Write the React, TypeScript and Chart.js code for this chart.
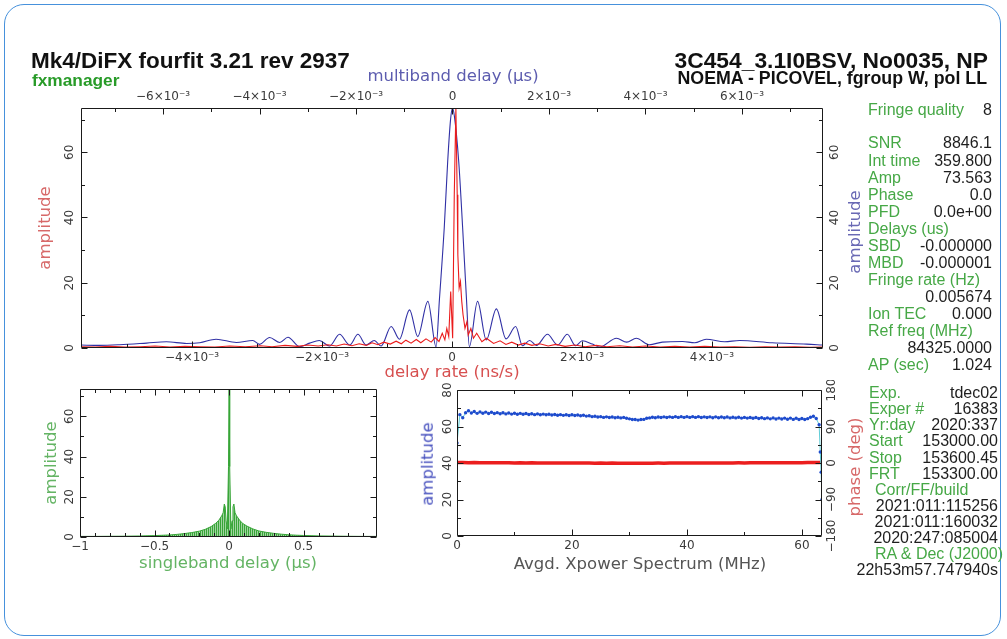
import React, { useEffect, useRef } from 'react';
import { Chart, registerables } from 'chart.js';

Chart.register(...registerables);

const PLOT_FONT = '"DejaVu Sans", "Noto Sans", sans-serif';
const TEXT_FONT = '"Liberation Sans", Arial, Helvetica, sans-serif';

// ---------------- main panel ----------------
const AMP_MAX = 73.563;
// multiband delay (top axis, units of 1e-3 µs)
const MBD_X = [-7.71, -7.32, -6.9, -6.34, -5.93, -5.51, -5.24, -4.9, -4.48, -4.14, -4.0, -3.79, -3.58, -3.41, -3.17, -2.96, -2.76, -2.55, -2.34, -2.13, -1.96, -1.79, -1.62, -1.48, -1.27, -1.1, -0.89, -0.72, -0.51, -0.34, -0.27, -0.17, -0.1, -0.04, 0, 0.04, 0.13, 0.21, 0.29, 0.35, 0.52, 0.7, 0.91, 1.11, 1.31, 1.45, 1.6, 1.74, 1.97, 2.18, 2.38, 2.55, 2.69, 2.9, 3.05, 3.4, 3.61, 3.81, 4.08, 4.35, 4.77, 5.02, 5.26, 5.64, 5.95, 6.63, 7.34, 7.67];
const MBD_AMP = [0.9, 0.8, 1.0, 1.5, 1.9, 1.4, 1.6, 2.7, 1.7, 2.3, 1.1, 3.2, 1.7, 3.3, 0.4, 1.5, 2.3, 0.6, 4.2, 0.9, 4.2, 0.9, 2.3, 0.6, 6.6, 2.7, 11.7, 3.5, 14.3, 0.3, 15, 37, 57, 70, 73.5, 71, 57, 37, 15, 0.4, 14.3, 2.5, 12, 2.8, 6.6, 0.7, 2.3, 0.8, 4.2, 0.9, 4.2, 0.7, 2.2, 1.2, 0.3, 3.0, 1.8, 3.0, 1.0, 1.8, 2.0, 1.6, 2.7, 1.9, 2.3, 1.6, 1.2, 0.9];
// delay rate (bottom axis, units of 1e-3 ns/s)
const DR_X = [-5.71, -5.49, -5.26, -5.03, -4.8, -4.57, -4.34, -4.11, -3.88, -3.65, -3.42, -3.18, -2.95, -2.77, -2.57, -2.38, -2.22, -2.06, -1.91, -1.78, -1.66, -1.54, -1.43, -1.32, -1.23, -1.14, -1.05, -0.95, -0.86, -0.78, -0.71, -0.63, -0.55, -0.48, -0.4, -0.32, -0.26, -0.2, -0.15, -0.11, -0.08, -0.05, -0.02, 0.01, 0.035, 0.06, 0.08, 0.09, 0.11, 0.13, 0.15, 0.17, 0.2, 0.23, 0.25, 0.29, 0.33, 0.38, 0.46, 0.53, 0.64, 0.74, 0.83, 0.92, 1.02, 1.12, 1.23, 1.35, 1.48, 1.6, 1.74, 1.89, 2.05, 2.22, 2.38, 2.58, 2.78, 2.98, 3.2, 3.43, 3.66, 3.89, 4.12, 4.35, 4.58, 4.82, 5.05, 5.28, 5.51, 5.71];
const DR_AMP = [0.4, 0.3, 0.5, 0.3, 0.4, 0.6, 0.3, 0.5, 0.4, 0.3, 0.6, 0.4, 0.7, 0.4, 0.8, 0.5, 0.9, 0.6, 1.0, 0.6, 1.2, 0.7, 1.3, 0.8, 1.6, 1.0, 1.8, 1.2, 2.1, 1.3, 2.4, 1.5, 2.6, 1.6, 2.8, 1.8, 3.2, 2.0, 4.5, 2.5, 6.0, 3.5, 17.3, 3.0, 47, 73.5, 47, 28.6, 18.4, 20.4, 14.3, 10.2, 6.0, 8.1, 4.0, 6.0, 3.0, 4.5, 1.9, 3.0, 1.4, 2.2, 1.1, 1.8, 0.9, 1.5, 0.8, 1.3, 0.6, 1.1, 0.5, 0.9, 0.4, 0.8, 0.4, 0.7, 0.3, 0.6, 0.3, 0.5, 0.3, 0.5, 0.3, 0.4, 0.2, 0.4, 0.3, 0.4, 0.2, 0.3];
const DR_TICKS = [-5, -4, -3, -2, -1, 0, 1, 2, 3, 4, 5];
const DR_LABELED = [-4, -2, 0, 2, 4];
const MBD_TICKS = [-7, -6, -5, -4, -3, -2, -1, 0, 1, 2, 3, 4, 5, 6, 7];
const MBD_LABELED = [-6, -4, -2, 0, 2, 4, 6];
const AMP_TICKS = [0, 10, 20, 30, 40, 50, 60, 70];
const AMP_LABELED = [0, 20, 40, 60];

// ---------------- singleband delay panel ----------------
const SBD_X = [-1, -0.9, -0.8, -0.7, -0.6, -0.5, -0.45, -0.4, -0.35, -0.3, -0.25, -0.2, -0.16, -0.12, -0.09, -0.07, -0.05, -0.04, -0.032, -0.026, -0.02, -0.012, -0.004, 0, 0.004, 0.012, 0.02, 0.026, 0.032, 0.04, 0.05, 0.07, 0.09, 0.12, 0.16, 0.2, 0.25, 0.3, 0.35, 0.4, 0.45, 0.5, 0.6, 0.7, 0.8, 0.9, 0.99];
const SBD_AMP = [0.3, 0.3, 0.35, 0.4, 0.5, 0.7, 0.85, 1.0, 1.3, 1.7, 2.2, 2.9, 3.8, 5.2, 6.8, 8.2, 10.5, 12, 16.4, 15, 8, 4, 35, 73.5, 35, 4, 8, 15, 16.4, 12, 10.5, 8.4, 6.8, 5.4, 4.0, 3.0, 2.3, 1.8, 1.4, 1.1, 0.9, 0.75, 0.55, 0.45, 0.35, 0.3, 0.3];
const SBD_TICKS = [-1, -0.9, -0.8, -0.7, -0.6, -0.5, -0.4, -0.3, -0.2, -0.1, 0, 0.1, 0.2, 0.3, 0.4, 0.5, 0.6, 0.7, 0.8, 0.9];
const SBD_LABELED = [-1, -0.5, 0, 0.5];

// ---------------- cross-power spectrum panel ----------------
const XP_FREQ = [
  0, 0.5, 1, 1.5, 2, 2.5, 3, 3.5, 4, 4.5,
  5, 5.5, 6, 6.5, 7, 7.5, 8, 8.5, 9, 9.5,
  10, 10.5, 11, 11.5, 12, 12.5, 13, 13.5, 14, 14.5,
  15, 15.5, 16, 16.5, 17, 17.5, 18, 18.5, 19, 19.5,
  20, 20.5, 21, 21.5, 22, 22.5, 23, 23.5, 24, 24.5,
  25, 25.5, 26, 26.5, 27, 27.5, 28, 28.5, 29, 29.5,
  30, 30.5, 31, 31.5, 32, 32.5, 33, 33.5, 34, 34.5,
  35, 35.5, 36, 36.5, 37, 37.5, 38, 38.5, 39, 39.5,
  40, 40.5, 41, 41.5, 42, 42.5, 43, 43.5, 44, 44.5,
  45, 45.5, 46, 46.5, 47, 47.5, 48, 48.5, 49, 49.5,
  50, 50.5, 51, 51.5, 52, 52.5, 53, 53.5, 54, 54.5,
  55, 55.5, 56, 56.5, 57, 57.5, 58, 58.5, 59, 59.5,
  60, 60.5, 61, 61.5, 62, 62.5, 63, 63.2, 63.35, 63.5,
];
const XP_AMP = [
  51, 66.5, 64.8, 67.5, 68.6, 67.4, 68.2, 67.2, 68.0, 67.3,
  67.9, 67.1, 67.8, 67.1, 67.6, 67.0, 67.5, 66.9, 67.4, 66.8,
  67.3, 66.7, 67.2, 66.7, 67.1, 66.6, 67.0, 66.5, 66.9, 66.4,
  66.8, 66.4, 66.7, 66.3, 66.6, 66.2, 66.5, 66.1, 66.4, 66.0,
  66.4, 66.0, 66.3, 65.9, 66.2, 65.7, 65.9, 65.4, 65.6, 65.2,
  65.4, 65.0, 65.3, 64.9, 65.2, 64.8, 65.1, 64.7, 65.0, 64.5,
  64.2, 63.8, 63.8, 63.5, 63.8, 63.9, 64.5, 64.7, 65.1, 64.8,
  65.2, 64.9, 65.3, 64.9, 65.3, 65.0, 65.4, 65.0, 65.4, 65.0,
  65.4, 65.0, 65.4, 65.0, 65.4, 64.9, 65.3, 64.9, 65.3, 64.8,
  65.3, 64.8, 65.2, 64.8, 65.2, 64.7, 65.1, 64.7, 65.1, 64.6,
  65.0, 64.6, 64.9, 64.5, 64.9, 64.4, 64.8, 64.3, 64.7, 64.2,
  64.7, 64.1, 64.6, 64.1, 64.6, 64.0, 64.6, 63.9, 64.5, 63.8,
  64.4, 63.8, 64.3, 65.1, 65.6, 64.4, 61, 46, 35, 20,
];
const XP_PH_FREQ = [
  0, 1, 2, 3, 4, 5, 6, 7, 8, 9,
  10, 11, 12, 13, 14, 15, 16, 17, 18, 19,
  20, 21, 22, 23, 24, 25, 26, 27, 28, 29,
  30, 31, 32, 33, 34, 35, 36, 37, 38, 39,
  40, 41, 42, 43, 44, 45, 46, 47, 48, 49,
  50, 51, 52, 53, 54, 55, 56, 57, 58, 59,
  60, 61, 62, 63, 63.5,
];
const XP_PHASE = [
  1.5, 1.2, 0.8, 1.0, 0.6, 0.9, 0.5, 0.7, 0.4, 0.6,
  0.3, 0.5, 0.2, 0.4, 0.1, 0.3, 0.0, 0.2, -0.1, 0.1,
  -0.2, 0.0, -0.3, -0.1, -0.4, -0.2, -0.5, -0.3, -0.6, -0.4,
  -0.7, -0.5, -0.6, -0.4, -0.5, -0.3, -0.4, -0.2, -0.3, -0.1,
  -0.2, 0.0, -0.1, 0.1, 0.0, 0.2, 0.1, 0.3, 0.2, 0.4,
  0.3, 0.5, 0.4, 0.6, 0.5, 0.7, 0.6, 0.8, 0.7, 0.9,
  0.8, 1.0, 1.2, 1.5, 1.6,
];
const XP_X_TICKS = [0, 10, 20, 30, 40, 50, 60];
const XP_X_LABELED = [0, 20, 40, 60];
const XP_AMP_TICKS = [0, 10, 20, 30, 40, 50, 60, 70, 80];
const XP_AMP_LABELED = [0, 20, 40, 60, 80];
const XP_PH_TICKS = [-180, -135, -90, -45, 0, 45, 90, 135, 180];
const XP_PH_LABELED = [-180, -90, 0, 90, 180];

// ---------------- text panel ----------------
const TITLE_LEFT = 'Mk4/DiFX fourfit 3.21 rev 2937';
const SUBTITLE_LEFT = 'fxmanager';
const TITLE_RIGHT = '3C454_3.1I0BSV, No0035, NP';
const SUBTITLE_RIGHT = 'NOEMA - PICOVEL, fgroup W, pol LL';
const INFO_TOP: [string, string][] = [
  ['SNR', '8846.1'],
  ['Int time', '359.800'],
  ['Amp', '73.563'],
  ['Phase', '0.0'],
  ['PFD', '0.0e+00'],
  ['Delays (us)', ''],
  ['SBD', '-0.000000'],
  ['MBD', '-0.000001'],
  ['Fringe rate (Hz)', ''],
  ['', '0.005674'],
  ['Ion TEC', '0.000'],
  ['Ref freq (MHz)', ''],
  ['', '84325.0000'],
  ['AP (sec)', '1.024'],
];
const INFO_BOTTOM: [string, string][] = [
  ['Exp.', 'tdec02'],
  ['Exper #', '16383'],
  ['Yr:day', '2020:337'],
  ['Start', '153000.00'],
  ['Stop', '153600.45'],
  ['FRT', '153300.00'],
  ['Corr/FF/build', ''],
  ['', '2021:011:115256'],
  ['', '2021:011:160032'],
  ['', '2020:247:085004'],
  ['RA & Dec (J2000)', ''],
  ['', '22h53m57.747940s'],
];

// ---------------- helpers ----------------
const minus = (s: string) => s.replace('-', '−');
const fmtMilli = (v: number) => (Math.abs(v) < 1e-9 ? '0' : minus(String(v)) + '×10⁻³');
const fmtPlain = (v: number) => minus(String(v));

type Side = 'left' | 'right' | 'top' | 'bottom';
const OPP: Record<Side, Side> = { left: 'right', right: 'left', top: 'bottom', bottom: 'top' };

function axis(o: {
  position: Side; min: number; max: number; ticks: number[]; labeled: number[];
  fmt: (v: number) => string; size: number; showLabels: boolean; padding?: number;
}) {
  return {
    type: 'linear',
    axis: o.position === 'left' || o.position === 'right' ? 'y' : 'x',
    position: o.position,
    min: o.min,
    max: o.max,
    grid: { display: false, drawTicks: false },
    border: { display: false },
    afterBuildTicks: (scale: any) => {
      scale.ticks = o.ticks.map((v) => ({ value: v }));
    },
    afterFit: (scale: any) => {
      if (o.position === 'left' || o.position === 'right') scale.width = o.size;
      else scale.height = o.size;
    },
    ticks: {
      display: o.showLabels,
      autoSkip: false,
      maxRotation: 0,
      minRotation: 0,
      padding: o.padding ?? 4,
      color: '#3a3a3a',
      font: { family: PLOT_FONT, size: 12 },
      callback: (v: number) => (o.labeled.some((l) => Math.abs(l - v) < 1e-9) ? o.fmt(v) : ''),
    },
  };
}

interface Deco { side: Side; mirror?: boolean; rot?: boolean; gap?: number }

function framePlugin(deco: Record<string, Deco>) {
  return {
    id: 'pgFrame',
    afterDraw(chart: any) {
      const ctx = chart.ctx as CanvasRenderingContext2D;
      const a = chart.chartArea;
      const L = Math.round(a.left) + 0.5;
      const R = Math.round(a.right) - 0.5;
      const T = Math.round(a.top) + 0.5;
      const B = Math.round(a.bottom) - 0.5;
      ctx.save();
      ctx.strokeStyle = '#1a1a1a';
      ctx.lineWidth = 1;
      ctx.beginPath();
      ctx.rect(L, T, R - L, B - T);
      for (const id of Object.keys(deco)) {
        const d = deco[id];
        const s = chart.scales[id];
        if (!s) continue;
        const sides: Side[] = [d.side];
        if (d.mirror) sides.push(OPP[d.side]);
        for (const t of s.ticks) {
          const p = Math.round(s.getPixelForValue(t.value)) + 0.5;
          const len = t.label ? 6 : 3.5;
          for (const sd of sides) {
            if (sd === 'left') { ctx.moveTo(L, p); ctx.lineTo(L + len, p); }
            else if (sd === 'right') { ctx.moveTo(R, p); ctx.lineTo(R - len, p); }
            else if (sd === 'top') { ctx.moveTo(p, T); ctx.lineTo(p, T + len); }
            else { ctx.moveTo(p, B); ctx.lineTo(p, B - len); }
          }
        }
      }
      ctx.stroke();
      ctx.fillStyle = '#3a3a3a';
      ctx.font = `12px ${PLOT_FONT}`;
      ctx.textAlign = 'center';
      ctx.textBaseline = 'middle';
      for (const id of Object.keys(deco)) {
        const d = deco[id];
        const s = chart.scales[id];
        if (!s || !d.rot) continue;
        const gap = d.gap ?? 10;
        for (const t of s.ticks) {
          if (!t.label) continue;
          const x = d.side === 'left' ? a.left - gap : a.right + gap;
          const y = s.getPixelForValue(t.value);
          ctx.save();
          ctx.translate(x, y);
          ctx.rotate(-Math.PI / 2);
          ctx.fillText(String(t.label), 0, 0);
          ctx.restore();
        }
      }
      ctx.restore();
    },
  };
}

const pts = (xs: number[], ys: number[]) => xs.map((x, i) => ({ x, y: ys[i] }));

const baseOptions = {
  responsive: false,
  animation: false,
  events: [],
  plugins: { legend: { display: false }, tooltip: { enabled: false }, title: { display: false } },
};

// ---------------- text components ----------------
function Txt(p: { x: number; base: number; size: number; color: string; bold?: boolean; align?: 'left' | 'right' | 'center'; family?: string; children: React.ReactNode }) {
  const style: any = {
    position: 'absolute',
    top: p.base - 0.8465 * p.size,
    fontSize: p.size,
    lineHeight: `${p.size}px`,
    fontFamily: p.family ?? TEXT_FONT,
    color: p.color,
    fontWeight: p.bold ? 700 : 400,
    whiteSpace: 'pre',
  };
  if (p.align === 'right') style.right = 1007 - p.x;
  else if (p.align === 'center') { style.left = p.x; style.transform = 'translateX(-50%)'; }
  else style.left = p.x;
  return <div style={style}>{p.children}</div>;
}

function VTxt(p: { cx: number; cy: number; size: number; color: string; children: React.ReactNode }) {
  return (
    <div
      style={{
        position: 'absolute', left: p.cx, top: p.cy, fontSize: p.size, lineHeight: `${p.size}px`,
        fontFamily: PLOT_FONT, color: p.color, whiteSpace: 'pre',
        transform: 'translate(-50%, -50%) rotate(-90deg)',
      }}
    >
      {p.children}
    </div>
  );
}

export default function App() {
  const mainRef = useRef<HTMLCanvasElement>(null);
  const sbdRef = useRef<HTMLCanvasElement>(null);
  const xpRef = useRef<HTMLCanvasElement>(null);

  useEffect(() => {
    Chart.defaults.font.family = PLOT_FONT;
    const charts: Chart[] = [];

    // main fringe plot
    charts.push(
      new Chart(mainRef.current!, {
        type: 'line',
        data: {
          datasets: [
            {
              data: pts(DR_X, DR_AMP), xAxisID: 'xb', yAxisID: 'y', borderColor: 'rgb(235,28,28)',
              borderWidth: 1.1, pointRadius: 0, tension: 0, order: 1,
            },
            {
              data: pts(MBD_X, MBD_AMP), xAxisID: 'xt', yAxisID: 'y', borderColor: 'rgb(48,48,165)',
              borderWidth: 1.1, pointRadius: 0, cubicInterpolationMode: 'monotone', order: 2,
            },
          ],
        },
        options: {
          ...baseOptions,
          layout: { padding: 0 },
          scales: {
            xb: axis({ position: 'bottom', min: -5.71, max: 5.71, ticks: DR_TICKS, labeled: DR_LABELED, fmt: fmtMilli, size: 42, showLabels: true, padding: 3 }),
            xt: axis({ position: 'top', min: -7.7, max: 7.68, ticks: MBD_TICKS, labeled: MBD_LABELED, fmt: fmtMilli, size: 48, showLabels: true, padding: 4 }),
            y: axis({ position: 'left', min: 0, max: AMP_MAX, ticks: AMP_TICKS, labeled: AMP_LABELED, fmt: fmtPlain, size: 81, showLabels: false }),
            y2: axis({ position: 'right', min: 0, max: AMP_MAX, ticks: AMP_TICKS, labeled: AMP_LABELED, fmt: fmtPlain, size: 77, showLabels: false }),
          },
        } as any,
        plugins: [framePlugin({
          xb: { side: 'bottom' }, xt: { side: 'top' },
          y: { side: 'left', rot: true, gap: 11 }, y2: { side: 'right', rot: true, gap: 12 },
        })],
      } as any)
    );

    // singleband delay plot with hatched fill
    const pc = document.createElement('canvas');
    pc.width = 2; pc.height = 1;
    const pctx = pc.getContext('2d')!;
    pctx.fillStyle = 'rgba(45,160,45,0.95)';
    pctx.fillRect(0, 0, 1, 1);
    pctx.fillStyle = 'rgba(45,160,45,0.45)';
    pctx.fillRect(1, 0, 1, 1);
    const hatch = sbdRef.current!.getContext('2d')!.createPattern(pc, 'repeat');

    charts.push(
      new Chart(sbdRef.current!, {
        type: 'line',
        data: {
          datasets: [
            {
              data: pts(SBD_X, SBD_AMP), borderColor: 'rgb(55,165,55)', borderWidth: 1,
              backgroundColor: hatch, fill: 'origin', pointRadius: 0, tension: 0,
            },
          ],
        },
        options: {
          ...baseOptions,
          layout: { padding: { top: 9, right: 13, left: 0, bottom: 0 } },
          scales: {
            x: axis({ position: 'bottom', min: -1, max: 0.992, ticks: SBD_TICKS, labeled: SBD_LABELED, fmt: fmtPlain, size: 23, showLabels: true, padding: 3 }),
            y: axis({ position: 'left', min: 0, max: AMP_MAX, ticks: AMP_TICKS, labeled: AMP_LABELED, fmt: fmtPlain, size: 50, showLabels: false }),
          },
        } as any,
        plugins: [framePlugin({ x: { side: 'bottom', mirror: true }, y: { side: 'left', mirror: true, rot: true, gap: 10 } })],
      } as any)
    );

    // cross-power spectrum plot
    charts.push(
      new Chart(xpRef.current!, {
        type: 'line',
        data: {
          datasets: [
            {
              data: pts(XP_PH_FREQ, XP_PHASE), yAxisID: 'y2', borderColor: 'rgb(235,30,30)',
              borderWidth: 3.5, pointRadius: 0, tension: 0, order: 2,
            },
            {
              data: pts(XP_FREQ, XP_AMP), yAxisID: 'y', borderColor: 'rgb(95,205,215)', borderWidth: 1,
              pointRadius: 1.7, pointBorderWidth: 0, pointBackgroundColor: 'rgb(30,75,205)', tension: 0, order: 1,
            },
          ],
        },
        options: {
          ...baseOptions,
          layout: { padding: { top: 10, right: 0, left: 0, bottom: 0 } },
          scales: {
            x: axis({ position: 'bottom', min: 0, max: 63.5, ticks: XP_X_TICKS, labeled: XP_X_LABELED, fmt: fmtPlain, size: 24, showLabels: true, padding: 3 }),
            y: axis({ position: 'left', min: 0, max: 80, ticks: XP_AMP_TICKS, labeled: XP_AMP_LABELED, fmt: fmtPlain, size: 47, showLabels: false }),
            y2: axis({ position: 'right', min: -180, max: 180, ticks: XP_PH_TICKS, labeled: XP_PH_LABELED, fmt: fmtPlain, size: 28, showLabels: false }),
          },
        } as any,
        plugins: [framePlugin({
          x: { side: 'bottom', mirror: true },
          y: { side: 'left', rot: true, gap: 9 },
          y2: { side: 'right', rot: true, gap: 10 },
        })],
      } as any)
    );

    return () => charts.forEach((c) => c.destroy());
  }, []);

  const labelGreen = 'rgb(70,168,70)';
  const valueBlack = '#1e1e1e';

  return (
    <div style={{ position: 'absolute', left: 0, top: 0, width: 1007, height: 639, background: '#fff', overflow: 'hidden' }}>
      <div
        style={{
          position: 'absolute', left: 4, top: 4, width: 997, height: 632, boxSizing: 'border-box',
          border: '1.5px solid rgb(70,145,220)', borderRadius: 20,
        }}
      />
      <canvas ref={mainRef} width={900} height={330} style={{ position: 'absolute', left: 0, top: 60 }} />
      <canvas ref={sbdRef} width={360} height={180} style={{ position: 'absolute', left: 30, top: 380 }} />
      <canvas ref={xpRef} width={440} height={180} style={{ position: 'absolute', left: 410, top: 380 }} />

      {/* headers */}
      <Txt x={31} base={69.5} size={22.5} color="#111" bold>{TITLE_LEFT}</Txt>
      <Txt x={32} base={87} size={17.3} color="rgb(40,155,40)" bold>{SUBTITLE_LEFT}</Txt>
      <Txt x={988} base={68.5} size={22.8} color="#111" bold align="right">{TITLE_RIGHT}</Txt>
      <Txt x={987} base={85} size={17.8} color="#111" bold align="right">{SUBTITLE_RIGHT}</Txt>

      {/* axis titles */}
      <Txt x={453} base={81.5} size={16.5} color="rgb(92,92,175)" align="center" family={PLOT_FONT}>multiband delay (μs)</Txt>
      <Txt x={452} base={377.5} size={16.5} color="rgb(215,80,80)" align="center" family={PLOT_FONT}>delay rate (ns/s)</Txt>
      <VTxt cx={45} cy={228} size={16.5} color="rgb(215,105,105)">amplitude</VTxt>
      <VTxt cx={855} cy={232} size={16.5} color="rgb(105,105,180)">amplitude</VTxt>
      <VTxt cx={51} cy={463} size={16.5} color="rgb(100,180,100)">amplitude</VTxt>
      <Txt x={228} base={569} size={16.5} color="rgb(100,180,100)" align="center" family={PLOT_FONT}>singleband delay (μs)</Txt>
      <VTxt cx={428} cy={464} size={16.5} color="rgb(70,80,190)">amplitude</VTxt>
      <VTxt cx={855} cy={467} size={16.5} color="rgb(215,105,105)">phase (deg)</VTxt>
      <Txt x={640} base={569.5} size={16.5} color="#555" align="center" family={PLOT_FONT}>Avgd. Xpower Spectrum (MHz)</Txt>

      {/* info panel */}
      <Txt x={868} base={115.5} size={16} color={labelGreen}>Fringe quality</Txt>
      <Txt x={992} base={115.5} size={16} color={valueBlack} align="right">8</Txt>
      {INFO_TOP.map(([k, v], i) => (
        <React.Fragment key={'t' + i}>
          {k && <Txt x={868} base={149 + i * 17.05} size={16} color={labelGreen}>{k}</Txt>}
          {v && <Txt x={992} base={149 + i * 17.05} size={16} color={valueBlack} align="right">{v}</Txt>}
        </React.Fragment>
      ))}
      {INFO_BOTTOM.map(([k, v], i) => (
        <React.Fragment key={'b' + i}>
          {k && <Txt x={k.startsWith('Corr') || k.startsWith('RA') ? 875 : 869} base={398.7 + i * 16.1} size={16} color={labelGreen}>{k}</Txt>}
          {v && <Txt x={998} base={398.7 + i * 16.1} size={16} color={valueBlack} align="right">{v}</Txt>}
        </React.Fragment>
      ))}
    </div>
  );
}
